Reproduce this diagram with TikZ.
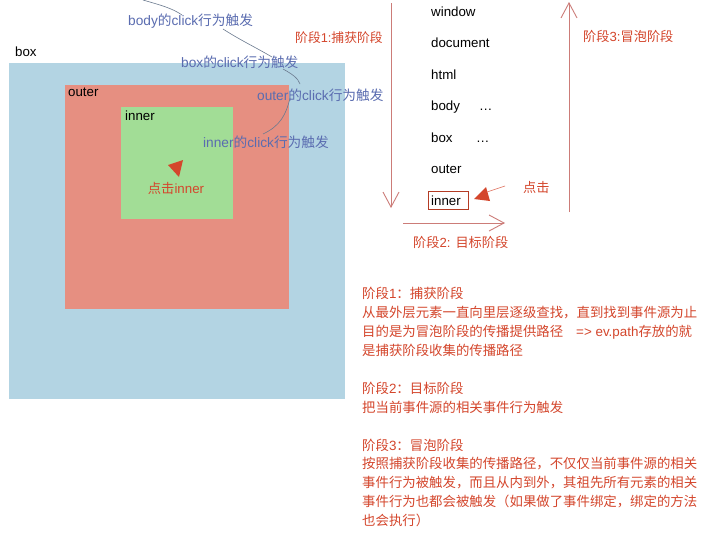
\documentclass[tikz,border=0pt]{standalone}
\usepackage{fontspec}
\setmainfont{Liberation Sans}
\newfontfamily\cjk{Noto Sans CJK SC}
\usetikzlibrary{arrows.meta}
\definecolor{boxblue}{HTML}{B3D4E3}
\definecolor{outerred}{HTML}{E68F81}
\definecolor{innergreen}{HTML}{A2DD96}
\definecolor{myred}{HTML}{D4462C}
\definecolor{myblue}{HTML}{5A6CB0}
\definecolor{curvegray}{HTML}{6B7A8F}
\definecolor{arrowred}{HTML}{CC7C78}
\begin{document}
\begin{tikzpicture}[x=1pt,y=-1pt,
  area/.style={inner sep=0pt, anchor=north west, draw=none},
  blk/.style={inner sep=0pt, anchor=base west, text=black, font=\fontsize{13.3}{16}\selectfont},
  bluelbl/.style={inner sep=0pt, anchor=base west, text=myblue, font=\fontsize{13.7}{16}\selectfont},
  redlbl/.style={inner sep=0pt, anchor=base west, text=myred, font=\fontsize{13.2}{16}\selectfont},
  para/.style={inner sep=0pt, anchor=base west, text=myred, font=\fontsize{13.4}{16}\selectfont},
  link/.style={draw=curvegray, line width=0.6pt},
  phase/.style={draw=arrowred, line width=0.9pt, -{Straight Barb[length=15pt,width=16pt,line width=0.9pt]}}
]
\useasboundingbox (0,0) rectangle (725,541);
\fill[white] (0,0) rectangle (725,541);

% nested boxes
\node[area, fill=boxblue, minimum width=336pt, minimum height=336pt] (boxr) at (9,63) {};
\node[area, fill=outerred, minimum width=224pt, minimum height=224pt] (outerr) at (65,85) {};
\node[area, fill=innergreen, minimum width=112pt, minimum height=112pt] (innerr) at (121,107) {};

\node[blk] (boxlab) at (15,56.5) {box};
\node[blk] (outerlab) at (68,96.5) {outer};
\node[blk] (innerlab) at (125,120.5) {inner};
\node[inner sep=0pt, anchor=base, text=myred, font=\fontsize{13.3}{16}\selectfont] (clickinner) at (176,193.5) {{\cjk 点击}inner};
\fill[myred] (168,165) -- (183,160) -- (179,177) -- cycle;

% blue labels
\node[bluelbl] (lbody) at (128,25.5) {body{\cjk 的}click{\cjk 行为触发}};
\node[bluelbl] (lbox) at (181,67.5) {box{\cjk 的}click{\cjk 行为触发}};
\node[bluelbl] (louter) at (257,100.5) {outer{\cjk 的}click{\cjk 行为触发}};
\node[bluelbl] (linner) at (203,147.5) {inner{\cjk 的}click{\cjk 行为触发}};

% hand-drawn links
\coordinate (top) at (143,0);
\coordinate (b1) at (182,15);
\coordinate (b2) at (223,29);
\coordinate (x1) at (272,57);
\coordinate (x2) at (283,69);
\coordinate (o1) at (300,84);
\coordinate (o2) at (290,98);
\coordinate (i1) at (263,134);
\draw[link] (top) .. controls (160,5) and (172,8) .. (b1);
\draw[link] (b2) .. controls (240,40) and (255,47) .. (x1);
\draw[link] (x2) .. controls (292,74) and (298,78) .. (o1);
\draw[link] (o2) .. controls (286,115) and (280,126) .. (i1);

% phase labels
\node[redlbl, font=\fontsize{12.8}{16}\selectfont] (p1) at (295,42.5) {{\cjk 阶段}1:{\cjk 捕获阶段}};
\node[redlbl] (p3) at (583,41.5) {{\cjk 阶段}3:{\cjk 冒泡阶段}};
\node[redlbl] (p2) at (413,247.5) {{\cjk 阶段}2: {\cjk 目标阶段}};
\node[redlbl] (clk) at (523,192.5) {{\cjk 点击}};

% list
\node[blk] (lwindow) at (431,16) {window};
\node[blk] (ldocument) at (431,47.5) {document};
\node[blk] (lhtml) at (431,79) {html};
\node[blk] (lbodyi) at (431,110.5) {body};
\node[blk] (lboxi) at (431,142) {box};
\node[blk] (louteri) at (431,173.5) {outer};
\node[blk] (linneri) at (431,205) {inner};
\node[blk] (dots1) at (479,110.5) {\dots};
\node[blk] (dots2) at (476,142) {\dots};
\draw[draw=myred!85!black, line width=0.7pt] (428,191) rectangle (468,209);

\fill[myred] (474,199) -- (486,187) -- (490,201) -- cycle;
\coordinate (ta) at (487,192);
\coordinate (tb) at (505,186);
\draw[draw=myred!80, line width=0.6pt] (ta) -- (tb);

% phase arrows
\coordinate (d1) at (391,3);
\coordinate (d2) at (391,208);
\coordinate (h1) at (403,223);
\coordinate (h2) at (505,223);
\coordinate (u1) at (569,212);
\coordinate (u2) at (569,2);
\draw[phase] (d1) -- (d2);
\draw[phase] (h1) -- (h2);
\draw[phase] (u1) -- (u2);

% explanation
\node[para] (t1) at (362,298.5) {{\cjk 阶段}1{\cjk ：捕获阶段}};
\node[para] (t2) at (362,317.5) {{\cjk 从最外层元素一直向里层逐级查找，直到找到事件源为止}};
\node[para] (t3) at (362,336.5) {{\cjk 目的是为冒泡阶段的传播提供路径}\hspace{13pt}=> ev.path{\cjk 存放的就}};
\node[para] (t4) at (362,355.5) {{\cjk 是捕获阶段收集的传播路径}};
\node[para] (t5) at (362,393) {{\cjk 阶段}2{\cjk ：目标阶段}};
\node[para] (t6) at (362,412) {{\cjk 把当前事件源的相关事件行为触发}};
\node[para] (t7) at (362,450) {{\cjk 阶段}3{\cjk ：冒泡阶段}};
\node[para] (t8) at (362,468.5) {{\cjk 按照捕获阶段收集的传播路径，不仅仅当前事件源的相关}};
\node[para] (t9) at (362,487.5) {{\cjk 事件行为被触发，而且从内到外，其祖先所有元素的相关}};
\node[para] (t10) at (362,506.5) {{\cjk 事件行为也都会被触发（如果做了事件绑定，绑定的方法}};
\node[para] (t11) at (362,525) {{\cjk 也会执行）}};
\end{tikzpicture}
\end{document}
